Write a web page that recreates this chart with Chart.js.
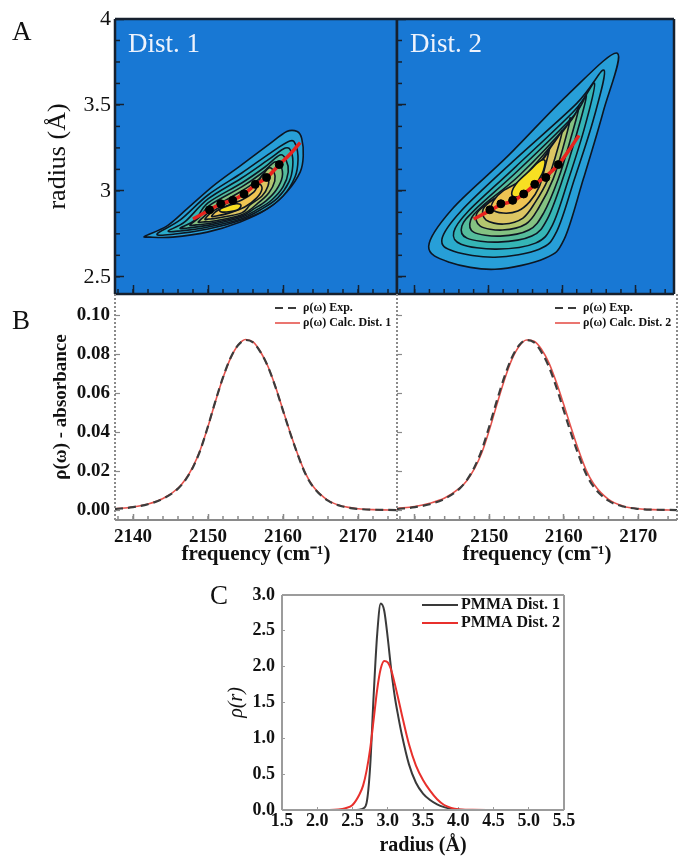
<!DOCTYPE html>
<html lang="en">
<head>
<meta charset="UTF-8">
<title>PMMA radius distributions</title>
<style>
  html, body { margin: 0; padding: 0; background: #fff; }
  #page { position: relative; width: 679px; height: 859px; overflow: hidden; }
  #page canvas { position: absolute; left: 0; top: 0; }
  .letter { position: absolute; font-family: 'Liberation Serif', 'Times New Roman', serif; font-size: 27px; line-height: 1; color: #111; }
</style>
</head>
<body>
<div id="page">
  <canvas id="a1" width="679" height="859"></canvas>
  <canvas id="a2" width="679" height="859"></canvas>
  <canvas id="b1" width="679" height="859"></canvas>
  <canvas id="b2" width="679" height="859"></canvas>
  <canvas id="c1" width="679" height="859"></canvas>
  <div class="letter" style="left:12px;top:18px">A</div>
  <div class="letter" style="left:12px;top:307px">B</div>
  <div class="letter" style="left:210px;top:582px">C</div>
</div>

<script src="https://cdn.jsdelivr.net/npm/chart.js"></script>
<script>
// ---- panel A: contour levels (frequency cm-1, radius A), outer -> inner
const dist1Contours = [
  [[2141.6,2.737],[2144.5,2.795],[2147.2,2.895],[2150.7,3.029],[2154.3,3.146],[2157.9,3.263],[2160.5,3.345],[2161.9,3.345],[2162.5,3.304],[2162.7,3.205],[2162.3,3.111],[2160.5,2.994],[2157.9,2.895],[2154.3,2.819],[2149.9,2.760],[2145.3,2.731],[2142.3,2.731]],
  [[2143.2,2.749],[2146.3,2.831],[2150.0,2.976],[2154.5,3.104],[2158.3,3.220],[2160.9,3.290],[2161.7,3.267],[2162.0,3.180],[2161.6,3.081],[2160.0,2.970],[2157.6,2.889],[2154.5,2.831],[2150.0,2.778],[2145.6,2.749]],
  [[2144.7,2.767],[2146.9,2.819],[2150.0,2.953],[2154.5,3.075],[2158.0,3.180],[2160.3,3.249],[2161.1,3.226],[2161.3,3.145],[2160.8,3.052],[2159.3,2.959],[2157.2,2.895],[2154.5,2.838],[2150.0,2.790],[2146.3,2.767]],
  [[2146.3,2.784],[2148.3,2.831],[2150.0,2.930],[2154.5,3.046],[2157.6,3.139],[2159.6,3.209],[2160.4,3.180],[2160.7,3.110],[2160.0,3.023],[2158.5,2.947],[2156.7,2.895],[2154.5,2.846],[2150.3,2.802],[2147.3,2.784]],
  [[2147.6,2.802],[2148.9,2.848],[2150.3,2.918],[2154.5,3.023],[2157.2,3.104],[2158.9,3.168],[2159.7,3.145],[2159.9,3.081],[2159.1,3.005],[2157.7,2.941],[2156.1,2.895],[2154.5,2.854],[2150.5,2.813],[2148.4,2.802]],
  [[2148.7,2.819],[2149.7,2.860],[2150.8,2.906],[2154.5,2.999],[2156.8,3.069],[2158.1,3.133],[2158.8,3.110],[2158.9,3.057],[2158.1,2.988],[2156.7,2.930],[2154.5,2.861],[2150.8,2.825],[2149.3,2.819]],
  [[2149.6,2.836],[2150.5,2.877],[2151.6,2.906],[2154.5,2.976],[2156.4,3.034],[2157.3,3.092],[2158.0,3.075],[2158.0,3.028],[2157.2,2.970],[2155.6,2.918],[2154.5,2.872],[2151.3,2.842],[2150.1,2.836]],
  [[2150.5,2.854],[2151.6,2.895],[2154.5,2.947],[2156.1,2.993],[2156.8,3.040],[2157.2,3.011],[2156.5,2.959],[2154.9,2.906],[2152.9,2.872],[2151.1,2.854]],
  [[2151.6,2.893],[2152.6,2.912],[2153.8,2.925],[2154.4,2.915],[2153.9,2.889],[2152.5,2.877],[2151.7,2.879]]
];
const dist2Contours = [
  [[2167.5,3.801],[2165.6,3.462],[2162.9,3.070],[2160.3,2.719],[2157.7,2.608],[2150.9,2.544],[2144.7,2.585],[2141.9,2.678],[2145.1,2.895],[2152.7,3.205],[2160.7,3.556]],
  [[2165.7,3.702],[2164.3,3.421],[2161.7,3.070],[2159.3,2.766],[2156.9,2.661],[2150.9,2.614],[2145.3,2.649],[2143.7,2.719],[2146.3,2.883],[2153.3,3.170],[2162.0,3.509]],
  [[2164.4,3.626],[2163.1,3.374],[2160.9,3.070],[2158.7,2.801],[2156.4,2.696],[2151.1,2.661],[2146.3,2.690],[2145.3,2.760],[2147.3,2.883],[2153.7,3.140],[2161.7,3.468]],
  [[2163.3,3.556],[2162.0,3.333],[2160.1,3.070],[2158.0,2.836],[2155.9,2.737],[2151.3,2.702],[2147.1,2.725],[2146.4,2.795],[2148.3,2.895],[2154.0,3.117],[2161.5,3.433]],
  [[2162.3,3.491],[2161.1,3.292],[2159.5,3.070],[2157.5,2.871],[2155.5,2.772],[2151.6,2.737],[2148.0,2.760],[2147.6,2.830],[2149.2,2.912],[2154.3,3.094],[2160.9,3.392]],
  [[2161.1,3.421],[2160.1,3.246],[2158.8,3.070],[2156.9,2.906],[2155.1,2.807],[2151.9,2.772],[2148.9,2.795],[2148.4,2.865],[2150.0,2.930],[2154.5,3.070],[2160.1,3.345]],
  [[2160.0,3.345],[2159.1,3.199],[2158.0,3.058],[2156.4,2.936],[2154.7,2.842],[2152.1,2.807],[2149.7,2.830],[2149.3,2.895],[2150.8,2.953],[2154.8,3.047],[2159.1,3.292]],
  [[2158.3,3.246],[2157.7,3.140],[2156.9,3.023],[2155.6,2.936],[2154.0,2.883],[2152.0,2.871],[2150.5,2.895],[2150.7,2.942],[2152.0,3.000],[2155.3,3.082],[2157.7,3.199]],
  [[2157.7,3.175],[2157.3,3.099],[2156.1,3.023],[2154.7,2.977],[2153.5,2.965],[2153.2,2.994],[2154.0,3.053],[2155.6,3.117],[2156.9,3.170]]
];
const contourColors = ['#279fd8', '#2aaccc', '#35b5b6', '#55bc9c', '#84c282', '#b3c66f', '#dcc563', '#efc453', '#f7df22'];

// black points and red fitted curves
const peakFreq = [2150.2, 2151.7, 2153.3, 2154.8, 2156.3, 2157.8, 2159.5];
const peakRadius = [2.89, 2.925, 2.945, 2.982, 3.038, 3.078, 3.153];
const fitFreq = [2148.0, 2150.2, 2151.7, 2153.3, 2154.8, 2156.3, 2157.8, 2159.5, 2161.0, 2162.3];
const fit1Radius = [2.836, 2.889, 2.924, 2.947, 2.982, 3.035, 3.076, 3.152, 3.216, 3.281];
const fit2Radius = [2.836, 2.885, 2.920, 2.940, 2.982, 3.037, 3.084, 3.152, 3.240, 3.323];

const radiusTicksA = [2.5, 3, 3.5, 4];
const freqTicks = [2140, 2150, 2160, 2170];

// ---- panel B: absorbance spectra
const freqB = [2137.6, 2140, 2142, 2144, 2146, 2147, 2148, 2149, 2150, 2151, 2152, 2153, 2154, 2155, 2156, 2157, 2158, 2159, 2160, 2161, 2162, 2163, 2164, 2166, 2168, 2170, 2172, 2175.2];
const expAbs   = [0.0005, 0.0015, 0.003, 0.0058, 0.011, 0.0155, 0.022, 0.031, 0.043, 0.056, 0.068, 0.078, 0.0845, 0.0872, 0.086, 0.081, 0.0735, 0.063, 0.051, 0.039, 0.028, 0.0185, 0.012, 0.0048, 0.0018, 0.0006, 0.0002, 0.0];
const calc1Abs = [0.0006, 0.0016, 0.0031, 0.0059, 0.0112, 0.0158, 0.0223, 0.0312, 0.0428, 0.0558, 0.0678, 0.0778, 0.0845, 0.0875, 0.0862, 0.0812, 0.0736, 0.0632, 0.0512, 0.0392, 0.0282, 0.0188, 0.0122, 0.005, 0.0019, 0.0007, 0.0002, 0.0];
const calc2Abs = [0.0008, 0.0018, 0.0035, 0.0062, 0.0112, 0.0152, 0.0212, 0.0295, 0.041, 0.054, 0.0665, 0.077, 0.084, 0.0872, 0.0866, 0.0825, 0.0755, 0.0655, 0.054, 0.042, 0.0305, 0.0205, 0.0135, 0.0055, 0.002, 0.0007, 0.0002, 0.0];
const absTicks = [0, 0.02, 0.04, 0.06, 0.08, 0.10];

// ---- panel C: radius distributions
const radiusC = [1.5, 2.0, 2.3, 2.4, 2.5, 2.6, 2.65, 2.7, 2.75, 2.8, 2.85, 2.9, 2.95, 3.0, 3.05, 3.1, 3.15, 3.2, 3.3, 3.4, 3.5, 3.6, 3.7, 3.8, 3.9, 4.0, 4.2, 4.5, 5.0, 5.5];
const pmmaDist1 = [0, 0, 0, 0, 0, 0.005, 0.02, 0.1, 0.6, 1.6, 2.45, 2.88, 2.78, 2.4, 1.95, 1.58, 1.3, 1.05, 0.64, 0.38, 0.23, 0.14, 0.08, 0.04, 0.015, 0.005, 0, 0, 0, 0];
const pmmaDist2 = [0, 0, 0.008, 0.025, 0.07, 0.22, 0.34, 0.55, 0.85, 1.26, 1.68, 1.97, 2.08, 2.06, 1.95, 1.76, 1.55, 1.33, 0.92, 0.62, 0.42, 0.27, 0.15, 0.07, 0.03, 0.01, 0.002, 0, 0, 0];
const radiusTicksC = [1.5, 2.0, 2.5, 3.0, 3.5, 4.0, 4.5, 5.0, 5.5];
const densityTicks = [0, 0.5, 1.0, 1.5, 2.0, 2.5, 3.0];

const FONT = "'Liberation Serif', 'Times New Roman', serif";
Chart.defaults.font.family = FONT;
Chart.defaults.color = '#111';

const pairs = (xs, ys) => xs.map((x, i) => ({x: x, y: ys[i]}));
const fixTicks = vals => scale => { scale.ticks = vals.map(v => ({value: v})); };
// fixed axis box size, and no extra room asked for the end labels
const fixSize = (w, h) => s => {
  if (w !== null) s.width = w;
  if (h !== null) s.height = h;
  s.paddingTop = s.paddingBottom = s.paddingLeft = s.paddingRight = 0;
};

// ---- small plugins
function smoothClosedPath(ctx, pts) {
  const n = pts.length;
  ctx.beginPath();
  ctx.moveTo(pts[0][0], pts[0][1]);
  for (let i = 0; i < n; i++) {
    const p0 = pts[(i + n - 1) % n], p1 = pts[i], p2 = pts[(i + 1) % n], p3 = pts[(i + 2) % n];
    ctx.bezierCurveTo(
      p1[0] + (p2[0] - p0[0]) / 6, p1[1] + (p2[1] - p0[1]) / 6,
      p2[0] - (p3[0] - p1[0]) / 6, p2[1] - (p3[1] - p1[1]) / 6,
      p2[0], p2[1]);
  }
  ctx.closePath();
}

function contourLayer(levels) {
  return {
    id: 'contours',
    beforeDatasetsDraw(chart) {
      const {ctx, scales: {x, y}} = chart;
      ctx.save();
      levels.forEach((level, i) => {
        const pts = level.map(p => [x.getPixelForValue(p[0]), y.getPixelForValue(p[1])]);
        smoothClosedPath(ctx, pts);
        ctx.fillStyle = contourColors[i];
        ctx.fill();
        ctx.lineWidth = 1.6;
        ctx.strokeStyle = '#0d1622';
        ctx.stroke();
      });
      ctx.restore();
    }
  };
}

function frame(opts) {
  return {
    id: 'frame',
    beforeDraw(chart) {
      if (!opts.fill) return;
      const a = chart.chartArea, ctx = chart.ctx;
      ctx.save();
      ctx.fillStyle = opts.fill;
      ctx.fillRect(a.left, a.top, a.right - a.left, a.bottom - a.top);
      ctx.restore();
    },
    afterDraw(chart) {
      const {left, top, right, bottom} = chart.chartArea, ctx = chart.ctx;
      const sides = {
        top: [left, top, right, top], bottom: [left, bottom, right, bottom],
        left: [left, top, left, bottom], right: [right, top, right, bottom]
      };
      ctx.save();
      ctx.strokeStyle = opts.color;
      ctx.lineWidth = opts.width;
      for (const s in sides) {
        if (opts.skip && opts.skip.includes(s)) continue;
        ctx.setLineDash((opts.dash && opts.dash[s]) || []);
        const [x1, y1, x2, y2] = sides[s];
        ctx.beginPath(); ctx.moveTo(x1, y1); ctx.lineTo(x2, y2); ctx.stroke();
      }
      ctx.restore();
    }
  };
}

// short inward ticks between the labelled ones
function minorTicks(opts) {
  return {
    id: 'minorTicks',
    afterDatasetsDraw(chart) {
      const ctx = chart.ctx, a = chart.chartArea;
      ctx.save();
      ctx.strokeStyle = opts.color;
      ctx.lineWidth = 1.5;
      if (opts.x) {
        const s = chart.scales.x;
        for (let v = Math.ceil(s.min / opts.x.step) * opts.x.step; v <= s.max; v += opts.x.step) {
          const px = s.getPixelForValue(v);
          ctx.beginPath(); ctx.moveTo(px, a.bottom); ctx.lineTo(px, a.bottom - opts.x.len); ctx.stroke();
        }
      }
      if (opts.y) {
        const s = chart.scales.y;
        for (let v = Math.ceil(s.min / opts.y.step) * opts.y.step; v <= s.max; v += opts.y.step) {
          const py = s.getPixelForValue(v);
          ctx.beginPath(); ctx.moveTo(a.left, py); ctx.lineTo(a.left + opts.y.len, py); ctx.stroke();
        }
      }
      ctx.restore();
    }
  };
}

function cornerText(text, dx, dy) {
  return {
    id: 'cornerText',
    afterDraw(chart) {
      const ctx = chart.ctx, a = chart.chartArea;
      ctx.save();
      ctx.font = '27px ' + FONT;
      ctx.fillStyle = '#eef3fc';
      ctx.textBaseline = 'alphabetic';
      ctx.fillText(text, a.left + dx, a.top + dy);
      ctx.restore();
    }
  };
}

function cornerLegend(opts) {
  return {
    id: 'cornerLegend',
    afterDraw(chart) {
      const ctx = chart.ctx, a = chart.chartArea;
      ctx.save();
      ctx.font = opts.font;
      ctx.textBaseline = 'middle';
      chart.data.datasets.forEach((ds, i) => {
        const y = a.top + opts.rows[i];
        ctx.strokeStyle = ds.borderColor;
        ctx.lineWidth = ds.borderWidth;
        ctx.setLineDash(ds.borderDash || []);
        ctx.beginPath();
        ctx.moveTo(a.right - opts.lineFrom, y);
        ctx.lineTo(a.right - opts.lineTo, y);
        ctx.stroke();
        ctx.fillStyle = '#111';
        ctx.fillText(ds.label, a.right - opts.textAt, y);
      });
      ctx.restore();
    }
  };
}

const baseOptions = (padding, scales) => ({
  responsive: false,
  animation: false,
  events: [],
  layout: {padding: padding},
  plugins: {legend: {display: false}, tooltip: {enabled: false}},
  scales: scales
});

// ---- panel A
function contourChart(id, levels, fitRadius, label, showY, padLeft, padRight) {
  const axisA = '#16202e';
  new Chart(document.getElementById(id), {
    type: 'scatter',
    data: {
      datasets: [
        {label: 'peaks', data: pairs(peakFreq, peakRadius), pointRadius: 4, pointBackgroundColor: '#000', pointBorderColor: '#000', showLine: false},
        {label: 'fit', data: pairs(fitFreq, fitRadius), showLine: true, borderColor: '#e8231e', borderWidth: 3.5, pointRadius: 0, tension: 0.4}
      ]
    },
    options: baseOptions({left: padLeft, top: 19, right: padRight, bottom: 565}, {
      x: {
        type: 'linear', min: 2137.6, max: 2175.2,
        afterBuildTicks: fixTicks(freqTicks),
        afterFit: fixSize(null, 0),
        ticks: {display: false},
        grid: {drawOnChartArea: false, tickLength: -9, tickColor: axisA, tickWidth: 1.5},
        border: {display: false}
      },
      y: {
        type: 'linear', min: 2.4, max: 4.0,
        afterBuildTicks: fixTicks(radiusTicksA),
        afterFit: fixSize(showY ? 115 : 0, null),
        ticks: {display: showY, font: {size: 22}, color: '#111', padding: 13, callback: v => String(v)},
        grid: {drawOnChartArea: false, tickLength: -9, tickColor: axisA, tickWidth: 1.5},
        border: {display: false},
        title: {display: showY, text: 'radius (Å)', font: {size: 26}, color: '#111', padding: {top: 43, bottom: 0}}
      }
    }),
    plugins: [
      frame({fill: '#1878d4', color: axisA, width: 2.5}),
      contourLayer(levels),
      minorTicks({color: axisA, x: {step: 2, len: 5}, y: {step: 0.125, len: 5}}),
      cornerText(label, 13, 33)
    ]
  });
}
contourChart('a1', dist1Contours, fit1Radius, 'Dist. 1', true, 0, 282);
contourChart('a2', dist2Contours, fit2Radius, 'Dist. 2', false, 397, 2);

// ---- panel B
function spectrumChart(id, calcAbs, calcLabel, showY, padLeft, padRight) {
  const gray = '#8a8a8a';
  new Chart(document.getElementById(id), {
    type: 'scatter',
    data: {
      datasets: [
        {label: 'ρ(ω) Exp.', data: pairs(freqB, expAbs), showLine: true, borderColor: '#3c3c3c', borderWidth: 2.2, borderDash: [8, 5], pointRadius: 0, cubicInterpolationMode: 'monotone'},
        {label: calcLabel, data: pairs(freqB, calcAbs), showLine: true, borderColor: '#e5524c', borderWidth: 1.6, pointRadius: 0, cubicInterpolationMode: 'monotone'}
      ]
    },
    options: baseOptions({left: padLeft, top: 294, right: padRight, bottom: 289}, {
      x: {
        type: 'linear', min: 2137.6, max: 2175.2,
        afterBuildTicks: fixTicks(freqTicks),
        afterFit: fixSize(null, 50),
        ticks: {font: {size: 19, weight: 'bold'}, color: '#111', padding: 11.6, maxRotation: 0, callback: v => String(v)},
        grid: {drawOnChartArea: false, tickLength: -6, tickColor: gray, tickWidth: 1.5},
        border: {display: false},
        title: {display: true, text: 'frequency (cm⁻¹)', font: {size: 21, weight: 'bold'}, color: '#111', padding: {top: 0, bottom: 3}}
      },
      y: {
        type: 'linear', min: -0.0051, max: 0.1108,
        afterBuildTicks: fixTicks(absTicks),
        afterFit: fixSize(showY ? 115 : 0, null),
        ticks: {display: showY, font: {size: 19, weight: 'bold'}, color: '#111', padding: 10, callback: v => v.toFixed(2)},
        grid: {drawOnChartArea: false, tickLength: -5, tickColor: gray, tickWidth: 1.2},
        border: {display: false},
        title: {display: showY, text: 'ρ(ω) - absorbance', font: {size: 19, weight: 'bold'}, color: '#111', padding: {top: 50, bottom: 0}}
      }
    }),
    plugins: [
      frame({color: gray, width: 2, skip: ['top'], dash: {left: [2, 2], right: [2, 2]}}),
      minorTicks({color: gray, x: {step: 2, len: 4}}),
      cornerLegend({font: 'bold 12px ' + FONT, rows: [14, 29], lineFrom: 122, lineTo: 97, textAt: 94})
    ]
  });
}
spectrumChart('b1', calc1Abs, 'ρ(ω) Calc. Dist. 1', true, 0, 282);
spectrumChart('b2', calc2Abs, 'ρ(ω) Calc. Dist. 2', false, 397, 2);

// ---- panel C
new Chart(document.getElementById('c1'), {
  type: 'scatter',
  data: {
    datasets: [
      {label: 'PMMA Dist. 1', data: pairs(radiusC, pmmaDist1), showLine: true, borderColor: '#3a3a3a', borderWidth: 2, pointRadius: 0, cubicInterpolationMode: 'monotone', order: 1},
      {label: 'PMMA Dist. 2', data: pairs(radiusC, pmmaDist2), showLine: true, borderColor: '#e8302c', borderWidth: 2, pointRadius: 0, cubicInterpolationMode: 'monotone', order: 0}
    ]
  },
  options: baseOptions({left: 222, top: 595, right: 115, bottom: 0}, {
    x: {
      type: 'linear', min: 1.5, max: 5.5,
      afterBuildTicks: fixTicks(radiusTicksC),
      afterFit: fixSize(null, 49),
      ticks: {font: {size: 18, weight: 'bold'}, color: '#111', padding: 3.8, maxRotation: 0, callback: v => v.toFixed(1)},
      grid: {drawOnChartArea: false, tickLength: -3, tickColor: '#9c9c9c'},
      border: {display: false},
      title: {display: true, text: 'radius (Å)', font: {size: 20, weight: 'bold'}, color: '#111', padding: {top: 0, bottom: 1}}
    },
    y: {
      type: 'linear', min: 0, max: 3.0,
      afterBuildTicks: fixTicks(densityTicks),
      afterFit: fixSize(60, null),
      ticks: {font: {size: 18, weight: 'bold'}, color: '#111', padding: 10, callback: v => v.toFixed(1)},
      grid: {drawOnChartArea: false, tickLength: -3, tickColor: '#9c9c9c'},
      border: {display: false},
      title: {display: true, text: 'ρ(r)', font: {size: 20, style: 'italic'}, color: '#111', padding: {top: 3, bottom: 0}}
    }
  }),
  plugins: [
    frame({color: '#9c9c9c', width: 2}),
    cornerLegend({font: 'bold 16px ' + FONT, rows: [10, 28], lineFrom: 142, lineTo: 106, textAt: 103})
  ]
});
</script>
</body>
</html>
